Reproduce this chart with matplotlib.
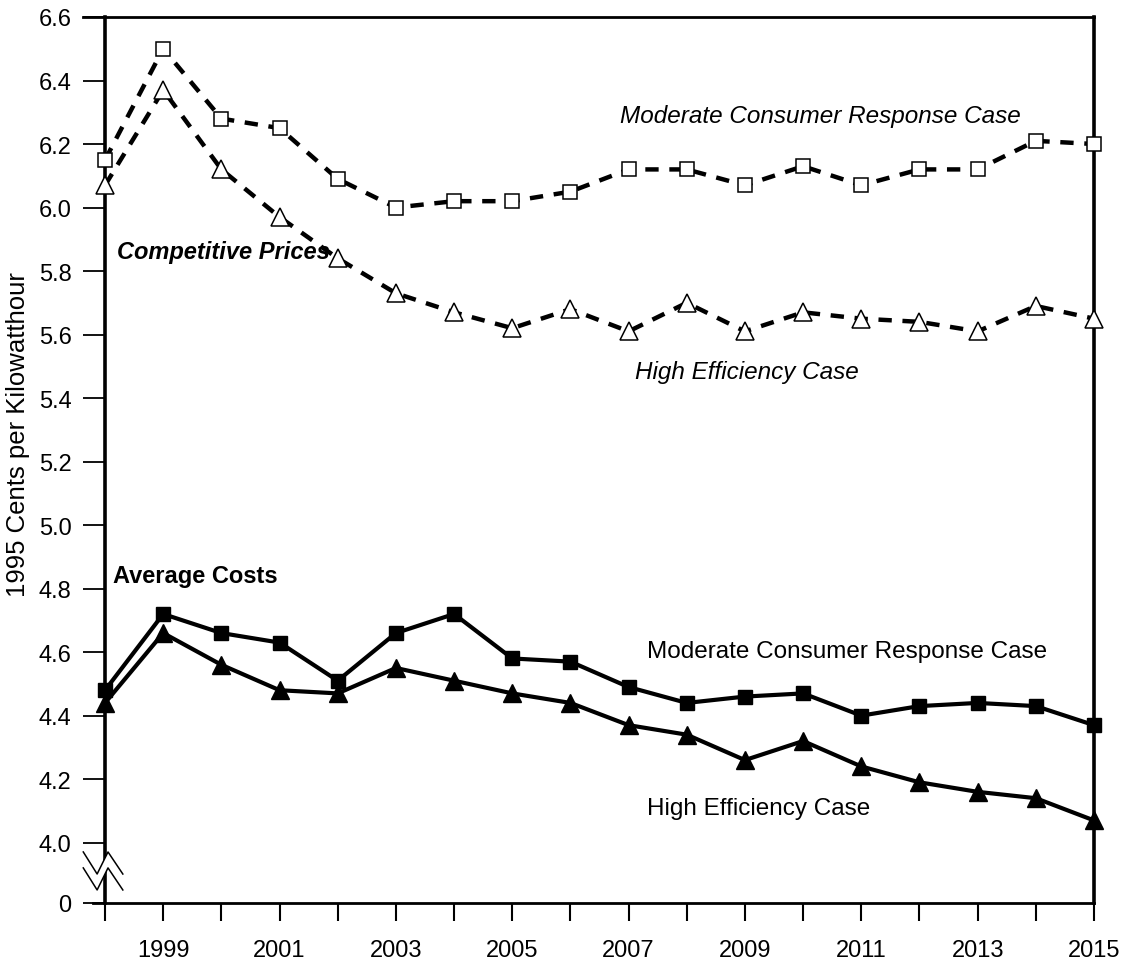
import matplotlib
matplotlib.use("Agg")
import matplotlib.pyplot as plt
from matplotlib.patches import Polygon

# ---------------- data ----------------
years = list(range(1998, 2016))
price_moderate = [6.15, 6.50, 6.28, 6.25, 6.09, 6.00, 6.02, 6.02, 6.05, 6.12,
                  6.12, 6.07, 6.13, 6.07, 6.12, 6.12, 6.21, 6.20]
price_high_eff = [6.07, 6.37, 6.12, 5.97, 5.84, 5.73, 5.67, 5.62, 5.68, 5.61,
                  5.70, 5.61, 5.67, 5.65, 5.64, 5.61, 5.69, 5.65]
cost_moderate = [4.48, 4.72, 4.66, 4.63, 4.51, 4.66, 4.72, 4.58, 4.57, 4.49,
                 4.44, 4.46, 4.47, 4.40, 4.43, 4.44, 4.43, 4.37]
cost_high_eff = [4.44, 4.66, 4.56, 4.48, 4.47, 4.55, 4.51, 4.47, 4.44, 4.37,
                 4.34, 4.26, 4.32, 4.24, 4.19, 4.16, 4.14, 4.07]
ytick_values = [4.0, 4.2, 4.4, 4.6, 4.8, 5.0, 5.2, 5.4, 5.6, 5.8, 6.0, 6.2, 6.4, 6.6]
ytick_labels = ["4.0", "4.2", "4.4", "4.6", "4.8", "5.0", "5.2", "5.4", "5.6",
                "5.8", "6.0", "6.2", "6.4", "6.6"]
zero_label = "0"
ylabel = "1995 Cents per Kilowatthour"

# axis-break: the "0" tick is drawn just below 4.0
ZERO_POS = 3.81

plt.rcParams['font.family'] = ['Liberation Sans', 'DejaVu Sans']

fig = plt.figure(figsize=(11.27, 9.62), dpi=100)
ax = fig.add_axes([0.0932, 0.0603, 0.8775, 0.921])

dash_style = dict(color='black', lw=3.2, linestyle=(0, (3.0, 2.4)),
                  markerfacecolor='white', markeredgecolor='black',
                  markeredgewidth=1.1, clip_on=False, zorder=4)
ax.plot(years, price_moderate, marker='s', markersize=10, **dash_style)
ax.plot(years, price_high_eff, marker='^', markersize=13, **dash_style)

solid_style = dict(color='black', lw=3.0, clip_on=False, zorder=4)
ax.plot(years, cost_moderate, marker='s', markersize=10, **solid_style)
ax.plot(years, cost_high_eff, marker='^', markersize=13.5, **solid_style)

ax.set_xlim(years[0], years[-1])
ax.set_ylim(ZERO_POS, 6.6)

ax.set_yticks([ZERO_POS] + ytick_values)
ax.set_yticklabels([zero_label] + ytick_labels)
ax.set_xticks(years[1::2])
ax.set_xticklabels([str(y) for y in years[1::2]])
ax.set_xticks(years[0::2], minor=True)

ax.tick_params(axis='y', direction='out', length=16, width=1.3, labelsize=17, pad=8)
ax.tick_params(axis='x', which='both', direction='out', length=13, width=1.5,
               labelsize=17, pad=13)

for side in ['left', 'right']:
    ax.spines[side].set_linewidth(2.6)
for side in ['top', 'bottom']:
    ax.spines[side].set_linewidth(2.0)
ax.spines['top'].set_bounds(years[0] - 0.38, years[-1])
ax.spines['bottom'].set_bounds(years[0] - 0.2, years[-1])

ax.set_ylabel(ylabel, fontsize=18.5)
ax.yaxis.set_label_coords(-0.076, 0.53)

# annotations
ax.text(2006.85, 6.29, "Moderate Consumer Response Case", fontsize=17.5,
        style='italic', ha='left', va='center')
ax.text(2007.11, 5.484, "High Efficiency Case", fontsize=17.5,
        style='italic', ha='left', va='center')
ax.text(1998.21, 5.86, "Competitive Prices", fontsize=17,
        style='italic', weight='bold', ha='left', va='center')
ax.text(1998.14, 4.84, "Average Costs", fontsize=17,
        weight='bold', ha='left', va='center')
ax.text(2007.32, 4.605, "Moderate Consumer Response Case", fontsize=17.5,
        ha='left', va='center')
ax.text(2007.32, 4.11, "High Efficiency Case", fontsize=17.5,
        ha='left', va='center')

# axis break symbol (zigzag) on left spine
zx = [-0.022, -0.008, 0.003, 0.018]
zy1 = [0.0576, 0.0327, 0.0576, 0.0327]
zy2 = [y - 0.018 for y in zy1]
poly = Polygon(list(zip(zx, zy1)) + list(zip(zx[::-1], zy2[::-1])),
               closed=True, facecolor='white', edgecolor='none',
               transform=ax.transAxes, clip_on=False, zorder=5)
ax.add_patch(poly)
ax.plot(zx, zy1, color='black', lw=1.1, transform=ax.transAxes, clip_on=False, zorder=6)
ax.plot(zx, zy2, color='black', lw=1.1, transform=ax.transAxes, clip_on=False, zorder=6)

fig.savefig("out.png", dpi=100)
